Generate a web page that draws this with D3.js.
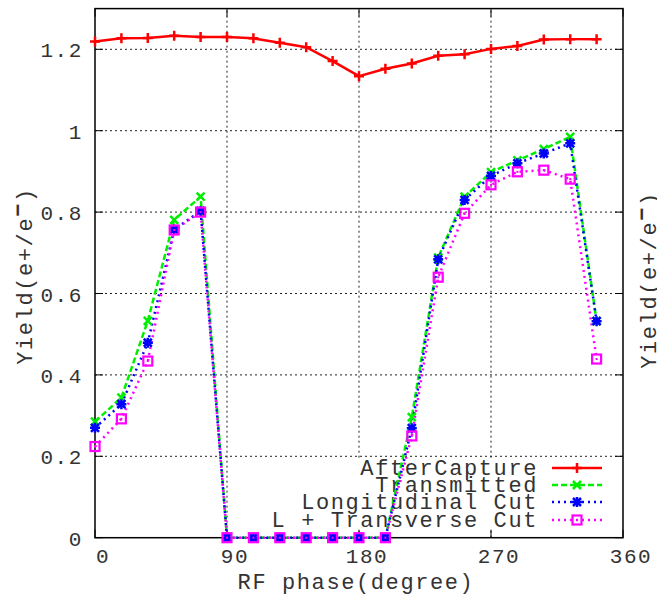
<!DOCTYPE html>
<html><head><meta charset="utf-8">
<script src="https://cdn.jsdelivr.net/npm/d3@7"></script>
<style>
html,body{margin:0;padding:0;background:#fff;}
svg{display:block;}
text{font-family:"Liberation Mono","DejaVu Sans Mono",monospace;fill:#333;}
</style></head>
<body>
<svg id="c" width="657" height="598"></svg>
<script>
const phases = [0,18,36,54,72,90,108,126,144,162,180,198,216,234,252,270,288,306,324,342];
const afterCapture = [1.219,1.227,1.228,1.233,1.230,1.230,1.227,1.216,1.205,1.171,1.134,1.152,1.165,1.184,1.188,1.201,1.208,1.224,1.225,1.225];
const transmitted = [0.285,0.344,0.533,0.781,0.838,0,0,0,0,0,0,0,0.296,0.688,0.838,0.898,0.927,0.955,0.985,0.532];
const longitudinalCut = [0.270,0.328,0.479,0.757,0.803,0,0,0,0,0,0,0,0.269,0.684,0.830,0.889,0.920,0.944,0.969,0.532];
const ltCut = [0.224,0.292,0.434,0.756,0.800,0,0,0,0,0,0,0,0.250,0.640,0.797,0.867,0.899,0.903,0.881,0.439];
const seriesNames = ["AfterCapture","Transmitted","Longitudinal Cut","L + Transverse Cut"];
const xTicks = [0,90,180,270,360];
const yTicks = [0,0.2,0.4,0.6,0.8,1,1.2];

const svg = d3.select("#c");
const x = d3.scaleLinear().domain([0,360]).range([95,623]);
const y = d3.scaleLinear().domain([0,1.3]).range([537.7,8.6]);

// grid
const g = svg.append("g");
yTicks.filter(v=>v>0).forEach(v=>{
  g.append("line").attr("x1",x(0)).attr("x2",x(360)).attr("y1",y(v)).attr("y2",y(v))
   .attr("stroke","#222").attr("stroke-width",1).attr("stroke-dasharray","2,3");
});
xTicks.filter(v=>v>0&&v<360).forEach(v=>{
  g.append("line").attr("x1",x(v)).attr("x2",x(v)).attr("y1",y(0)).attr("y2",y(1.3))
   .attr("stroke","#222").attr("stroke-width",1).attr("stroke-dasharray","2,3");
});

// legend background (blocks grid)
svg.append("rect").attr("x",265).attr("y",458).attr("width",347).attr("height",72).attr("fill","#fff");

// ticks (inward, mirrored)
yTicks.forEach(v=>{
  svg.append("line").attr("x1",x(0)).attr("x2",x(0)+8).attr("y1",y(v)).attr("y2",y(v)).attr("stroke","#000");
  svg.append("line").attr("x1",x(360)).attr("x2",x(360)-8).attr("y1",y(v)).attr("y2",y(v)).attr("stroke","#000");
});
xTicks.forEach(v=>{
  svg.append("line").attr("x1",x(v)).attr("x2",x(v)).attr("y1",y(0)).attr("y2",y(0)-8).attr("stroke","#000");
  svg.append("line").attr("x1",x(v)).attr("x2",x(v)).attr("y1",y(1.3)).attr("y2",y(1.3)+8).attr("stroke","#000");
});

// border
svg.append("rect").attr("x",x(0)).attr("y",y(1.3)).attr("width",x(360)-x(0)).attr("height",y(0)-y(1.3))
  .attr("fill","none").attr("stroke","#000").attr("stroke-width",1.5);

// tick labels
const fs = 21, ls = 1.6;
yTicks.forEach(v=>{
  svg.append("text").attr("x",x(0)-12).attr("y",y(v)+8).attr("text-anchor","end")
    .attr("font-size",fs).attr("letter-spacing",ls).text(d3.format("")(+v.toFixed(1)));
});
xTicks.forEach(v=>{
  svg.append("text").attr("x",x(v)+8).attr("y",563).attr("text-anchor","middle")
    .attr("font-size",fs).attr("letter-spacing",ls).text(v);
});

// axis titles
svg.append("text").attr("x",356).attr("y",589).attr("text-anchor","middle")
  .attr("font-size",22).attr("letter-spacing",1.6).text("RF phase(degree)");
function yTitle(cx, cy){
  const t = svg.append("text").attr("transform",`translate(${cx},${cy}) rotate(-90)`)
    .attr("text-anchor","middle").attr("font-size",22).attr("letter-spacing",1.6);
  t.append("tspan").text("Yield(e+/e");
  t.append("tspan").attr("dy",-7).attr("font-weight","bold").text("−");
  t.append("tspan").attr("dy",7).text(")");
}
yTitle(32, 276);
yTitle(656, 280);

// series
const styles = [
  {data:afterCapture, color:"#ff0000", dash:null, marker:"plus"},
  {data:transmitted, color:"#00ee00", dash:"6,3", marker:"cross"},
  {data:longitudinalCut, color:"#0000ff", dash:"2,4", marker:"star"},
  {data:ltCut, color:"#ff00ff", dash:"2,4", marker:"square"}
];
function marker(sel, type, cx, cy, color){
  const s = 5;
  if(type==="plus"||type==="star"){
    sel.append("path").attr("d",`M${cx-s},${cy}H${cx+s}M${cx},${cy-s}V${cy+s}`)
      .attr("stroke",color).attr("stroke-width",2.5).attr("fill","none");
  }
  if(type==="cross"||type==="star"){
    const c=4;
    sel.append("path").attr("d",`M${cx-c},${cy-c}L${cx+c},${cy+c}M${cx-c},${cy+c}L${cx+c},${cy-c}`)
      .attr("stroke",color).attr("stroke-width",2.5).attr("fill","none");
  }
  if(type==="star"){
    sel.append("rect").attr("x",cx-3).attr("y",cy-3).attr("width",6).attr("height",6).attr("fill",color);
  }
  if(type==="square"){
    sel.append("rect").attr("x",cx-4.5).attr("y",cy-4.5).attr("width",9).attr("height",9)
      .attr("fill","none").attr("stroke",color).attr("stroke-width",2.2);
    sel.append("rect").attr("x",cx-1).attr("y",cy-1).attr("width",2).attr("height",2).attr("fill",color);
  }
}
const line = d3.line().x((d,i)=>x(phases[i])).y(d=>y(d));

// legend
const legY = [468,485,502,520];
styles.forEach((st,k)=>{
  svg.append("text").attr("x",538).attr("y",legY[k]+7).attr("text-anchor","end")
    .attr("font-size",22).attr("letter-spacing",1.6).text(seriesNames[k]);
  const l = svg.append("line").attr("x1",552).attr("x2",602).attr("y1",legY[k]).attr("y2",legY[k])
    .attr("stroke",st.color).attr("stroke-width",2.5);
  if(st.dash) l.attr("stroke-dasharray",st.dash);
  marker(svg, st.marker, 577, legY[k], st.color);
});

styles.forEach(st=>{
  const p = svg.append("path").attr("d",line(st.data)).attr("fill","none")
    .attr("stroke",st.color).attr("stroke-width",2.5);
  if(st.dash) p.attr("stroke-dasharray",st.dash);
});
styles.forEach(st=>{
  const mg = svg.append("g");
  st.data.forEach((v,i)=>marker(mg, st.marker, x(phases[i]), y(v), st.color));
});
</script>
</body></html>
